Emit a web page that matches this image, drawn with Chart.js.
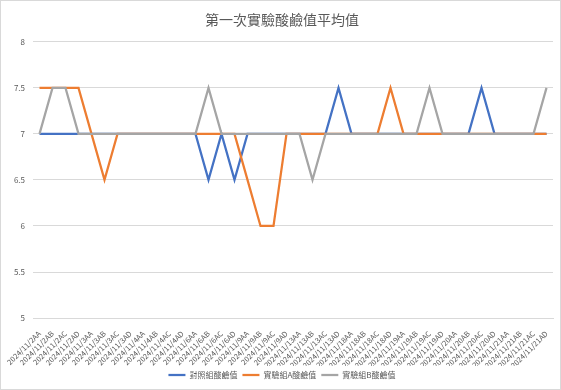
<!DOCTYPE html>
<html>
<head>
<meta charset="utf-8">
<script src="https://cdn.jsdelivr.net/npm/chart.js@4/dist/chart.umd.min.js"></script>
<style>
  html, body { margin: 0; padding: 0; background: #fff; }
  #wrap { position: relative; width: 559px; height: 388px; border: 1px solid #d9d9d9; }
</style>
</head>
<body>
<div id="wrap"><canvas id="phChart"></canvas></div>
<script>
// category labels: date + sample code
const days = ['2', '3', '4', '6', '9', '13', '18', '19', '20', '21'];
const codes = ['AA', 'AB', 'AC', 'AD'];
const labels = [];
days.forEach(d => codes.forEach(c => labels.push('2024/11/' + d + c)));

// 對照組酸鹼值
const controlPH = [
    7, 7, 7, 7, 7, 7, 7, 7, 7, 7,
    7, 7, 7, 6.5, 7, 6.5, 7, 7, 7, 7,
    7, 7, 7, 7.5, 7, 7, 7, 7, 7, 7,
    7, 7, 7, 7, 7.5, 7, 7, 7, 7, 7
];
// 實驗組A酸鹼值
const groupAPH = [
    7.5, 7.5, 7.5, 7.5, 7, 6.5, 7, 7, 7, 7,
    7, 7, 7, 7, 7, 7, 6.5, 6, 6, 7,
    7, 7, 7, 7, 7, 7, 7, 7.5, 7, 7,
    7, 7, 7, 7, 7, 7, 7, 7, 7, 7
];
// 實驗組B酸鹼值
const groupBPH = [
    7, 7.5, 7.5, 7, 7, 7, 7, 7, 7, 7,
    7, 7, 7, 7.5, 7, 7, 7, 7, 7, 7,
    7, 6.5, 7, 7, 7, 7, 7, 7, 7, 7,
    7.5, 7, 7, 7, 7, 7, 7, 7, 7, 7.5
];

const textColor = '#595959';
const gridColor = '#d9d9d9';
const font = "'Noto Sans CJK TC', 'Noto Sans', sans-serif";

function series(label, data, color, order) {
    return {
        label,
        data,
        borderColor: color,
        backgroundColor: color,
        borderWidth: 2.25,
        pointRadius: 0,
        tension: 0,
        order
    };
}

const ctx = document.getElementById('phChart').getContext('2d');
new Chart(ctx, {
    type: 'line',
    data: {
        labels,
        datasets: [
            series('對照組酸鹼值', controlPH, '#4472C4', 3),
            series('實驗組A酸鹼值', groupAPH, '#ED7D31', 2),
            series('實驗組B酸鹼值', groupBPH, '#A5A5A5', 1)
        ]
    },
    options: {
        responsive: true,
        maintainAspectRatio: false,
        animation: false,
        layout: { padding: { left: 10, right: 7, top: 6, bottom: 0 } },
        plugins: {
            title: {
                display: true,
                text: '第一次實驗酸鹼值平均值',
                color: textColor,
                font: { family: font, size: 14, weight: 'normal' },
                padding: { top: 4, bottom: 14 }
            },
            legend: {
                position: 'bottom',
                reverse: true,
                labels: {
                    usePointStyle: true,
                    pointStyle: 'line',
                    pointStyleWidth: 17,
                    color: textColor,
                    font: { family: font, size: 8 },
                    boxHeight: 8,
                    padding: 5
                }
            },
            tooltip: { enabled: false }
        },
        scales: {
            x: {
                offset: true,
                grid: { display: false },
                border: { color: gridColor },
                ticks: {
                    autoSkip: false,
                    maxRotation: 45,
                    minRotation: 45,
                    color: textColor,
                    font: { family: font, size: 7.5 },
                    padding: 3
                },
                // labels may run into the gap above the legend
                afterFit: (scale) => { scale.height -= 7; }
            },
            y: {
                min: 5,
                max: 8,
                grid: { color: gridColor, drawTicks: false },
                border: { display: false },
                ticks: {
                    stepSize: 0.5,
                    color: textColor,
                    font: { family: font, size: 8 },
                    padding: 8,
                    callback: (value) => String(value)
                },
                afterFit: (scale) => { scale.width = 22; }
            }
        }
    }
});
</script>
</body>
</html>
